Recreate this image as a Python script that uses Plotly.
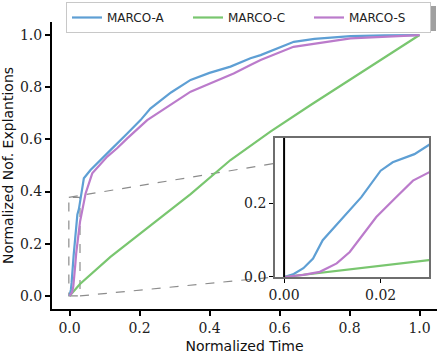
import plotly.graph_objects as go

# normalized time / normalized number of explanations
marco_a_x = [0, 0.002, 0.004, 0.006, 0.008, 0.012, 0.016, 0.020, 0.0225, 0.027, 0.030,
             0.041, 0.06, 0.089, 0.117, 0.165, 0.203, 0.231, 0.29, 0.346, 0.40, 0.46,
             0.517, 0.546, 0.60, 0.641, 0.70, 0.803, 0.9, 1.0]
marco_a_y = [0, 0.008, 0.024, 0.05, 0.10, 0.159, 0.217, 0.289, 0.312, 0.334, 0.357,
             0.451, 0.483, 0.52, 0.559, 0.623, 0.674, 0.718, 0.78, 0.828, 0.855, 0.879,
             0.911, 0.923, 0.952, 0.974, 0.985, 0.996, 0.999, 1.0]

marco_c_x = [0, 0.01, 0.02, 0.03, 0.117, 0.231, 0.346, 0.46, 0.574, 0.689, 0.85, 1.0]
marco_c_y = [0, 0.016, 0.031, 0.046, 0.15, 0.27, 0.39, 0.521, 0.63, 0.732, 0.87, 1.0]

marco_s_x = [0, 0.004, 0.0074, 0.0109, 0.0136, 0.0164, 0.0191, 0.0232, 0.0267, 0.0301,
             0.046, 0.065, 0.108, 0.136, 0.165, 0.222, 0.346, 0.469, 0.517, 0.546,
             0.64, 0.803, 1.0]
marco_s_y = [0, 0.006, 0.014, 0.037, 0.068, 0.118, 0.163, 0.217, 0.262, 0.285,
             0.393, 0.47, 0.534, 0.566, 0.604, 0.674, 0.783, 0.853, 0.885, 0.904,
             0.955, 0.987, 1.0]

series = [
    ("MARCO-A", marco_a_x, marco_a_y, "#5e9fd4"),
    ("MARCO-C", marco_c_x, marco_c_y, "#79c66f"),
    ("MARCO-S", marco_s_x, marco_s_y, "#bb7bcb"),
]

main_ticks = [0.0, 0.2, 0.4, 0.6, 0.8, 1.0]
inset_xticks = [0.00, 0.02]
inset_yticks = [0.0, 0.2]

W, H = 437, 355
ML, MR, MT, MB = 52, 0, 22, 46
xr = [-0.05, 1.05]
yr = [-0.05, 1.05]
ins_xr = [-0.0019, 0.030]
ins_yr = [0, 0.378]
ins_xdom = [0.579, 0.979]
ins_ydom = [0.1115, 0.596]

serif = "DejaVu Serif"
sans = "DejaVu Sans"

fig = go.Figure()
for name, xs, ys, col in series:
    fig.add_trace(go.Scatter(x=xs, y=ys, mode="lines", name=name,
                             line=dict(color=col, width=2.2), xaxis="x", yaxis="y"))
for name, xs, ys, col in series:
    fig.add_trace(go.Scatter(x=xs, y=ys, mode="lines", name=name, showlegend=False,
                             line=dict(color=col, width=2.2), xaxis="x2", yaxis="y2"))


def to_paper_x(v):
    return (v - xr[0]) / (xr[1] - xr[0])


def to_paper_y(v):
    return (v - yr[0]) / (yr[1] - yr[0])


pw = W - ML - MR
ph = H - MT - MB
dash = dict(color="#8c8c8c", width=1.2, dash="dash")
shapes = [
    dict(type="rect", xref="x", yref="y", x0=ins_xr[0], x1=ins_xr[1], y0=ins_yr[0], y1=ins_yr[1],
         line=dash, layer="below"),
    dict(type="line", xref="paper", yref="paper",
         x0=to_paper_x(ins_xr[0]), y0=to_paper_y(ins_yr[1]), x1=ins_xdom[1], y1=ins_ydom[1],
         line=dash, layer="below"),
    dict(type="line", xref="paper", yref="paper",
         x0=to_paper_x(ins_xr[1]), y0=to_paper_y(ins_yr[0]), x1=ins_xdom[0], y1=ins_ydom[0],
         line=dash, layer="below"),
    dict(type="line", xref="x2", yref="y2 domain", x0=0, x1=0, y0=0, y1=1,
         line=dict(color="black", width=2)),
    # legend shadow
    dict(type="rect", xref="paper", yref="paper",
         x0=(70 - ML) / pw, x1=(436 - ML) / pw,
         y0=(H - MB - 31) / ph, y1=(H - MB - 6) / ph,
         fillcolor="#a0a0a0", line=dict(width=0), layer="above"),
]

tickfont = dict(family=serif, size=14, color="#222")
fig.update_layout(
    width=W, height=H,
    margin=dict(l=ML, r=MR, t=MT, b=MB, autoexpand=False),
    paper_bgcolor="white", plot_bgcolor="#ffffff",
    shapes=shapes,
    showlegend=True,
    legend=dict(orientation="h", x=(66 - ML) / pw, xanchor="left",
                y=(H - MB - 2) / ph, yanchor="top",
                bgcolor="white", bordercolor="#c8c8c8", borderwidth=1,
                font=dict(family=sans, size=12, color="#222"),
                entrywidth=76, entrywidthmode="pixels", tracegroupgap=0),
    xaxis=dict(range=xr, tickvals=main_ticks, tickformat=".1f", tickfont=tickfont,
               showline=True, linecolor="black", linewidth=2, ticks="outside", ticklen=5,
               tickwidth=1.5, tickcolor="black", showgrid=False, zeroline=False,
               automargin=False,
               title=dict(text="Normalized Time", font=dict(family=sans, size=14, color="#111"),
                          standoff=6)),
    yaxis=dict(range=yr, tickvals=main_ticks, tickformat=".1f", tickfont=tickfont,
               showline=True, linecolor="black", linewidth=2, ticks="outside", ticklen=5,
               tickwidth=1.5, tickcolor="black", showgrid=False, zeroline=False,
               automargin=False,
               title=dict(text="Normalized Nof. Explantions",
                          font=dict(family=sans, size=14, color="#111"), standoff=4)),
    xaxis2=dict(domain=ins_xdom, anchor="y2", range=ins_xr, tickvals=inset_xticks,
                tickformat=".2f", tickfont=tickfont, showline=True, mirror=True,
                linecolor="#6e6e6e", linewidth=1.5, ticks="outside", ticklen=4,
                tickcolor="black", showgrid=False, zeroline=False, automargin=False),
    yaxis2=dict(domain=ins_ydom, anchor="x2", range=ins_yr, tickvals=inset_yticks,
                tickformat=".1f", tickfont=tickfont, showline=True, mirror=True,
                linecolor="#6e6e6e", linewidth=1.5, ticks="outside", ticklen=4,
                tickcolor="black", showgrid=False, zeroline=False, automargin=False),
)

# drop the default page margin so the figure sits at the window's top-left corner
fig.write_html("out.html", config={"displayModeBar": False},
               post_script="document.body.style.margin='0px';document.body.style.overflow='hidden';")
